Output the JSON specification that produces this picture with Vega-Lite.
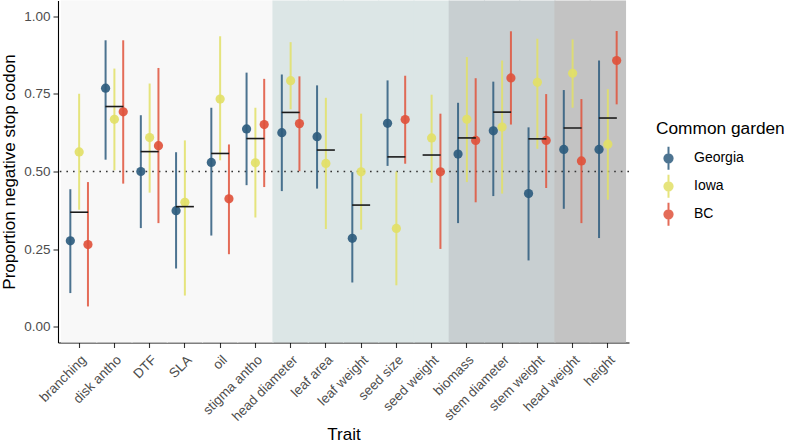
{
  "$schema": "https://vega.github.io/schema/vega-lite/v6.json",
  "autosize": "none",
  "width": 571,
  "height": 342,
  "padding": {"left": 58, "top": 0.5, "right": 158, "bottom": 101.5},
  "background": "white",
  "datasets": {
    "groups": [
      {"trait": "branching", "group": "g1"},
      {"trait": "disk antho", "group": "g1"},
      {"trait": "DTF", "group": "g1"},
      {"trait": "SLA", "group": "g1"},
      {"trait": "oil", "group": "g1"},
      {"trait": "stigma antho", "group": "g1"},
      {"trait": "head diameter", "group": "g2"},
      {"trait": "leaf area", "group": "g2"},
      {"trait": "leaf weight", "group": "g2"},
      {"trait": "seed size", "group": "g2"},
      {"trait": "seed weight", "group": "g2"},
      {"trait": "biomass", "group": "g3"},
      {"trait": "stem diameter", "group": "g3"},
      {"trait": "stem weight", "group": "g3"},
      {"trait": "head weight", "group": "g4"},
      {"trait": "height", "group": "g4"}
    ],
    "points": [
      {"trait": "branching", "garden": "Georgia", "prop": 0.277, "lo": 0.109, "hi": 0.443},
      {"trait": "branching", "garden": "Iowa", "prop": 0.563, "lo": 0.377, "hi": 0.750},
      {"trait": "branching", "garden": "BC", "prop": 0.265, "lo": 0.066, "hi": 0.466},
      {"trait": "disk antho", "garden": "Georgia", "prop": 0.768, "lo": 0.538, "hi": 0.922},
      {"trait": "disk antho", "garden": "Iowa", "prop": 0.668, "lo": 0.504, "hi": 0.831},
      {"trait": "disk antho", "garden": "BC", "prop": 0.692, "lo": 0.461, "hi": 0.922},
      {"trait": "DTF", "garden": "Georgia", "prop": 0.500, "lo": 0.318, "hi": 0.681},
      {"trait": "DTF", "garden": "Iowa", "prop": 0.609, "lo": 0.432, "hi": 0.783},
      {"trait": "DTF", "garden": "BC", "prop": 0.583, "lo": 0.334, "hi": 0.833},
      {"trait": "SLA", "garden": "Georgia", "prop": 0.374, "lo": 0.188, "hi": 0.562},
      {"trait": "SLA", "garden": "Iowa", "prop": 0.401, "lo": 0.101, "hi": 0.600},
      {"trait": "oil", "garden": "Georgia", "prop": 0.529, "lo": 0.294, "hi": 0.705},
      {"trait": "oil", "garden": "Iowa", "prop": 0.733, "lo": 0.536, "hi": 0.935},
      {"trait": "oil", "garden": "BC", "prop": 0.412, "lo": 0.234, "hi": 0.587},
      {"trait": "stigma antho", "garden": "Georgia", "prop": 0.637, "lo": 0.456, "hi": 0.818},
      {"trait": "stigma antho", "garden": "Iowa", "prop": 0.528, "lo": 0.352, "hi": 0.705},
      {"trait": "stigma antho", "garden": "BC", "prop": 0.651, "lo": 0.450, "hi": 0.798},
      {"trait": "head diameter", "garden": "Georgia", "prop": 0.625, "lo": 0.437, "hi": 0.812},
      {"trait": "head diameter", "garden": "Iowa", "prop": 0.792, "lo": 0.700, "hi": 0.916},
      {"trait": "head diameter", "garden": "BC", "prop": 0.654, "lo": 0.501, "hi": 0.806},
      {"trait": "leaf area", "garden": "Georgia", "prop": 0.612, "lo": 0.445, "hi": 0.777},
      {"trait": "leaf area", "garden": "Iowa", "prop": 0.526, "lo": 0.315, "hi": 0.737},
      {"trait": "leaf weight", "garden": "Georgia", "prop": 0.285, "lo": 0.143, "hi": 0.498},
      {"trait": "leaf weight", "garden": "Iowa", "prop": 0.499, "lo": 0.313, "hi": 0.686},
      {"trait": "seed size", "garden": "Georgia", "prop": 0.655, "lo": 0.518, "hi": 0.793},
      {"trait": "seed size", "garden": "Iowa", "prop": 0.317, "lo": 0.134, "hi": 0.500},
      {"trait": "seed size", "garden": "BC", "prop": 0.667, "lo": 0.525, "hi": 0.808},
      {"trait": "seed weight", "garden": "Iowa", "prop": 0.608, "lo": 0.464, "hi": 0.747},
      {"trait": "seed weight", "garden": "BC", "prop": 0.499, "lo": 0.251, "hi": 0.686},
      {"trait": "biomass", "garden": "Georgia", "prop": 0.556, "lo": 0.334, "hi": 0.721},
      {"trait": "biomass", "garden": "Iowa", "prop": 0.668, "lo": 0.466, "hi": 0.868},
      {"trait": "biomass", "garden": "BC", "prop": 0.600, "lo": 0.401, "hi": 0.800},
      {"trait": "stem diameter", "garden": "Georgia", "prop": 0.631, "lo": 0.421, "hi": 0.789},
      {"trait": "stem diameter", "garden": "Iowa", "prop": 0.643, "lo": 0.429, "hi": 0.857},
      {"trait": "stem diameter", "garden": "BC", "prop": 0.801, "lo": 0.651, "hi": 0.951},
      {"trait": "stem weight", "garden": "Georgia", "prop": 0.429, "lo": 0.214, "hi": 0.642},
      {"trait": "stem weight", "garden": "Iowa", "prop": 0.787, "lo": 0.573, "hi": 0.927},
      {"trait": "stem weight", "garden": "BC", "prop": 0.600, "lo": 0.447, "hi": 0.749},
      {"trait": "head weight", "garden": "Georgia", "prop": 0.571, "lo": 0.380, "hi": 0.762},
      {"trait": "head weight", "garden": "Iowa", "prop": 0.816, "lo": 0.705, "hi": 0.925},
      {"trait": "head weight", "garden": "BC", "prop": 0.534, "lo": 0.334, "hi": 0.733},
      {"trait": "height", "garden": "Georgia", "prop": 0.571, "lo": 0.286, "hi": 0.857},
      {"trait": "height", "garden": "Iowa", "prop": 0.588, "lo": 0.409, "hi": 0.765},
      {"trait": "height", "garden": "BC", "prop": 0.857, "lo": 0.716, "hi": 0.952}
    ],
    "means": [
      {"trait": "branching", "mean": 0.369},
      {"trait": "disk antho", "mean": 0.709},
      {"trait": "DTF", "mean": 0.564},
      {"trait": "SLA", "mean": 0.387},
      {"trait": "oil", "mean": 0.558},
      {"trait": "stigma antho", "mean": 0.606},
      {"trait": "head diameter", "mean": 0.690},
      {"trait": "leaf area", "mean": 0.569},
      {"trait": "leaf weight", "mean": 0.392},
      {"trait": "seed size", "mean": 0.547},
      {"trait": "seed weight", "mean": 0.553},
      {"trait": "biomass", "mean": 0.608},
      {"trait": "stem diameter", "mean": 0.691},
      {"trait": "stem weight", "mean": 0.605},
      {"trait": "head weight", "mean": 0.640},
      {"trait": "height", "mean": 0.672}
    ],
    "ref": [{"level": 0.5}]
  },
  "layer": [
    {
      "data": {"name": "groups"},
      "mark": {"type": "tick", "orient": "vertical", "thickness": 36.4, "size": 342, "opacity": 1},
      "encoding": {
        "x": {"field": "trait", "type": "nominal", "title": "Trait",
              "scale": {"type": "band", "paddingInner": 0, "paddingOuter": 0.1,
                        "domain": ["branching", "disk antho", "DTF", "SLA", "oil", "stigma antho", "head diameter", "leaf area", "leaf weight", "seed size", "seed weight", "biomass", "stem diameter", "stem weight", "head weight", "height"]}},
        "color": {"field": "group", "type": "nominal", "legend": null,
                 "scale": {"domain": ["g1", "g2", "g3", "g4"], "range": ["#F8F8F8", "#DCE6E6", "#C8CFD1", "#C3C3C3"]}}
      }
    },
    {
      "data": {"name": "ref"},
      "mark": {"type": "rule", "color": "#333333", "strokeWidth": 1.6, "strokeDash": [1.6, 5]},
      "encoding": {
        "y": {"field": "level", "type": "quantitative", "title": "Proportion negative stop codon",
              "axis": {"values": [0, 0.25, 0.5, 0.75, 1], "format": ".2f"},
              "scale": {"domain": [-0.05, 1.05], "nice": false, "zero": false}}
      }
    },
    {
      "data": {"name": "points"},
      "mark": {"type": "rule", "strokeWidth": 2, "opacity": 0.85},
      "encoding": {
        "x": {"field": "trait", "type": "nominal", "title": "Trait"},
        "xOffset": {"field": "garden", "type": "nominal", "scale": {"type": "point", "padding": 2.75, "domain": ["Georgia", "Iowa", "BC"]}},
        "y": {"field": "lo", "type": "quantitative", "title": "Proportion negative stop codon",
              "axis": {"values": [0, 0.25, 0.5, 0.75, 1], "format": ".2f"},
              "scale": {"domain": [-0.05, 1.05], "nice": false, "zero": false}},
        "y2": {"field": "hi"},
        "stroke": {"field": "garden", "type": "nominal",
                  "scale": {"domain": ["Georgia", "Iowa", "BC"], "range": ["#2E5C7E", "#E2E067", "#E0533C"]},
                  "legend": {"title": "Common garden", "orient": "none", "legendX": 598, "legendY": 119,
                             "symbolType": "M-0.36,0A0.36,0.36,0,1,1,0.36,0A0.36,0.36,0,1,1,-0.36,0ZM0,-1L0,1",
                             "symbolSize": 529, "symbolStrokeWidth": 2, "labelOffset": 13, "rowPadding": -3, "titlePadding": 9,
                             "encode": {"symbols": {"update": {"fill": {"scale": "stroke", "field": "value"}, "stroke": {"scale": "stroke", "field": "value"}, "opacity": {"value": 1}}}}}}
      }
    },
    {
      "data": {"name": "points"},
      "mark": {"type": "point", "filled": true, "size": 85, "opacity": 0.92},
      "encoding": {
        "x": {"field": "trait", "type": "nominal", "title": "Trait"},
        "xOffset": {"field": "garden", "type": "nominal", "scale": {"type": "point", "padding": 2.75, "domain": ["Georgia", "Iowa", "BC"]}},
        "y": {"field": "prop", "type": "quantitative", "title": "Proportion negative stop codon",
              "axis": {"values": [0, 0.25, 0.5, 0.75, 1], "format": ".2f"},
              "scale": {"domain": [-0.05, 1.05], "nice": false, "zero": false}},
        "fill": {"field": "garden", "type": "nominal", "legend": null,
                  "scale": {"domain": ["Georgia", "Iowa", "BC"], "range": ["#2E5C7E", "#E2E067", "#E0533C"]}}
      }
    },
    {
      "data": {"name": "means"},
      "mark": {"type": "tick", "orient": "horizontal", "size": 18, "thickness": 1.6, "color": "#1A1A1A", "opacity": 1},
      "encoding": {
        "x": {"field": "trait", "type": "nominal", "title": "Trait"},
        "y": {"field": "mean", "type": "quantitative", "title": "Proportion negative stop codon",
              "axis": {"values": [0, 0.25, 0.5, 0.75, 1], "format": ".2f"},
              "scale": {"domain": [-0.05, 1.05], "nice": false, "zero": false}}
      }
    }
  ],
  "config": {
    "view": {"stroke": null},
    "font": "Liberation Sans",
    "axis": {
      "grid": false,
      "domainColor": "#000000",
      "domainWidth": 1.1,
      "tickColor": "#333333",
      "tickWidth": 1.1,
      "tickSize": 5,
      "labelColor": "#4D4D4D",
      "labelFont": "Liberation Sans",
      "labelFontSize": 13.5,
      "titleFont": "Liberation Sans",
      "titleFontSize": 17,
      "titleFontWeight": "normal",
      "titleColor": "#000000"
    },
    "axisY": {"labelPadding": 3, "titlePadding": 5},
    "axisX": {"labelAngle": -45, "labelAlign": "right", "labelBaseline": "top", "labelPadding": 5, "titlePadding": 3},
    "legend": {
      "titleFont": "Liberation Sans",
      "titleFontSize": 17.3,
      "titleFontWeight": "normal",
      "titleColor": "#000000",
      "labelFont": "Liberation Sans",
      "labelFontSize": 14,
      "labelColor": "#000000"
    }
  }
}
